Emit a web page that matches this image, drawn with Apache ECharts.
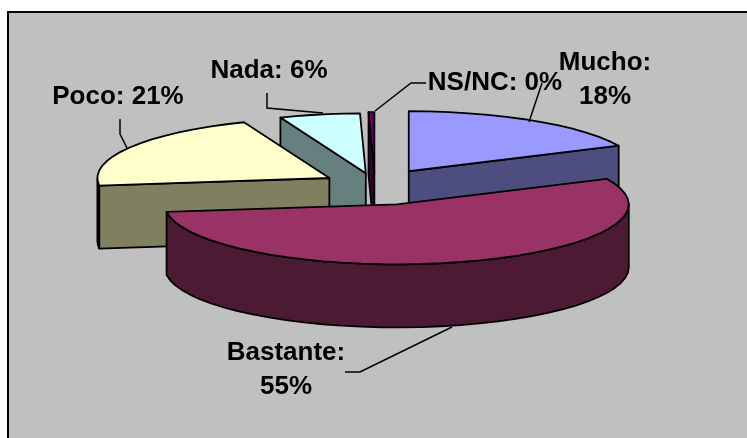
<!DOCTYPE html>
<html>
<head>
<meta charset="utf-8">
<style>html,body{margin:0;padding:0;background:#fff}#c{width:747px;height:438px}</style>
<script src="https://cdn.jsdelivr.net/npm/echarts@6/dist/echarts.min.js"></script>
</head>
<body>
<div id="c"></div>
<script>
// Data
const categories = ['Mucho', 'Bastante', 'Poco', 'Nada', 'NS/NC'];
const seriesValues = [18, 55, 21, 5.6, 0.4];

// Styles and layout (kept apart from the data)
const topColors = ['#9999ff', '#993366', '#ffffcc', '#ccffff', '#660066'];
const sideColors = ['#4d4d80', '#4d1a33', '#808060', '#668080', '#330033'];
const explode = [63, 78, 53, 46, 50];
const paintRank = [1, 5, 4, 2, 3];
const pie = { cx: 375, cy: 185, rx: 232, ry: 60, depth: 63 };
const labelLines = [
  { x: 605, y: 80, breakLine: true, path: [[542, 83], [529, 122]] },
  { x: 286, y: 370, breakLine: true, path: [[345, 372], [360, 372], [452, 327]] },
  { x: 118, y: 97, path: [[120, 119], [120, 134], [127, 148]] },
  { x: 269, y: 71, path: [[267, 93], [267, 108], [323, 113]] },
  { x: 495, y: 83, path: [[426, 83], [411, 83], [375, 111]] }
];

const total = seriesValues.reduce((a, b) => a + b, 0);
const TAU = Math.PI * 2;
const lineStyle = { stroke: '#000', lineWidth: 1.8, lineJoin: 'round' };

function renderSlice(params, api) {
  const i = params.dataIndex;
  let before = 0;
  for (let k = 0; k < i; k++) before += seriesValues[k];
  const a0 = before / total * TAU;
  const a1 = (before + api.value(0)) / total * TAU;
  const mid = (a0 + a1) / 2;
  const ox = pie.cx + explode[i] * Math.sin(mid);
  const oy = pie.cy - explode[i] * Math.cos(mid) * pie.ry / pie.rx;
  const pt = (t) => [ox + pie.rx * Math.sin(t), oy - pie.ry * Math.cos(t)];
  const arc = (s, e) => {
    const n = Math.max(1, Math.ceil((e - s) / (TAU / 72)));
    const out = [];
    for (let j = 0; j <= n; j++) out.push(pt(s + (e - s) * j / n));
    return out;
  };
  const down = (p) => [p[0], p[1] + pie.depth];
  const children = [];
  let z = paintRank[i] * 10;
  const add = (points, fill) => children.push({
    type: 'polygon', z2: z++, silent: true,
    shape: { points },
    style: Object.assign({ fill }, lineStyle)
  });
  const side = sideColors[i];
  if (Math.sin(a0) < -1e-6) add([[ox, oy], pt(a0), down(pt(a0)), [ox, oy + pie.depth]], side);
  if (Math.sin(a1) > 1e-6) add([[ox, oy], pt(a1), down(pt(a1)), [ox, oy + pie.depth]], side);
  const fs = Math.max(a0, Math.PI / 2), fe = Math.min(a1, Math.PI * 1.5);
  if (fe > fs) {
    const rim = arc(fs, fe);
    add(rim.concat(rim.slice().reverse().map(down)), side);
  }
  add([[ox, oy]].concat(arc(a0, a1)), topColors[i]);

  const lab = labelLines[i];
  const text = categories[i] + ':' + (lab.breakLine ? '\n' : ' ') + Math.round(api.value(0)) + '%';
  children.push({
    type: 'polyline', z2: 900, silent: true,
    shape: { points: lab.path },
    style: { stroke: '#000', lineWidth: 1.5, fill: null }
  });
  children.push({
    type: 'text', z2: 1000, silent: true, x: lab.x, y: lab.y,
    style: {
      text, fill: '#000', align: 'center', verticalAlign: 'middle',
      font: 'bold 26px "Liberation Sans", Arial, sans-serif', lineHeight: 34
    }
  });
  return { type: 'group', children };
}

const chart = echarts.init(document.getElementById('c'), null, { renderer: 'canvas' });
chart.setOption({
  animation: false,
  backgroundColor: '#ffffff',
  graphic: [{
    type: 'rect', z: -1, silent: true,
    shape: { x: 8, y: 12, width: 760, height: 450 },
    style: { fill: '#c0c0c0', stroke: '#000', lineWidth: 2 }
  }],
  series: [{
    type: 'custom',
    coordinateSystem: 'none',
    renderItem: renderSlice,
    data: seriesValues.map((v, i) => ({ name: categories[i], value: [v] }))
  }]
});
</script>
</body>
</html>
